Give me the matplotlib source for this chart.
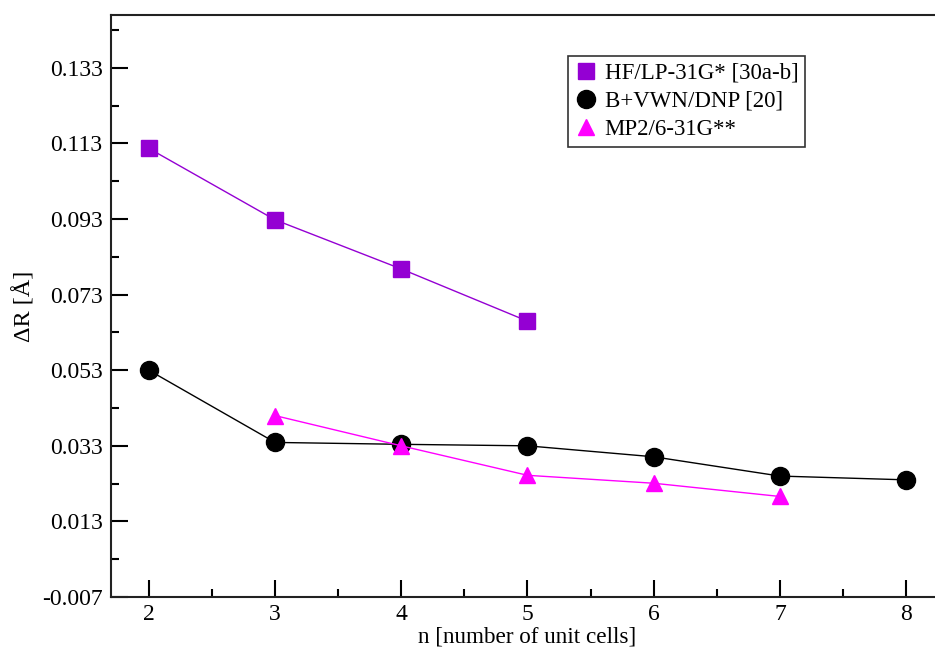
import matplotlib
matplotlib.use("Agg")
import matplotlib.pyplot as plt
from matplotlib.lines import Line2D
import numpy as np

plt.rcParams['font.family'] = ['Liberation Serif', 'DejaVu Serif']
plt.rcParams['mathtext.fontset'] = 'stix'

# data
n_hf = [2, 3, 4, 5]
dr_hf = [0.1117, 0.0928, 0.0798, 0.0660]
n_b = [2, 3, 4, 5, 6, 7, 8]
dr_b = [0.0530, 0.0339, 0.0334, 0.0330, 0.0301, 0.0250, 0.0240]
n_mp2 = [3, 4, 5, 6, 7]
dr_mp2 = [0.0410, 0.0330, 0.0252, 0.0231, 0.0196]

labels = ["HF/LP-31G* [30a-b]", "B+VWN/DNP [20]", "MP2/6-31G**"]
yticks = [-0.007, 0.013, 0.033, 0.053, 0.073, 0.093, 0.113, 0.133]
ytick_labels = ["-0.007", "0.013", "0.033", "0.053", "0.073", "0.093", "0.113", "0.133"]
xticks = [2, 3, 4, 5, 6, 7, 8]

W, H = 935, 655
fig = plt.figure(figsize=(W/100, H/100), dpi=100)
left, right, top, bottom = 111, 944, 15, 597
ax = fig.add_axes([left/W, 1-bottom/H, (right-left)/W, (bottom-top)/H])

c_hf = '#9400d3'
c_b = 'black'
c_mp2 = '#ff00ff'

ax.plot(n_hf, dr_hf, color=c_hf, lw=1.0, marker='s', ms=11, mfc=c_hf, mec=c_hf, zorder=3)
ax.plot(n_b, dr_b, color=c_b, lw=1.0, marker='o', ms=13, mfc=c_b, mec=c_b, zorder=3)
ax.plot(n_mp2, dr_mp2, color=c_mp2, lw=1.0, marker='^', ms=12, mfc=c_mp2, mec=c_mp2, zorder=4)

ax.set_xlim(1.7, 8.3)
ax.set_ylim(-0.007, 0.147)
ax.set_xticks(xticks)
ax.set_xticklabels([str(x) for x in xticks])
ax.set_xticks(np.arange(2.5, 8.0, 1.0), minor=True)
ax.set_yticks(yticks)
ax.set_yticklabels(ytick_labels)
ax.set_yticks(np.arange(0.003, 0.145, 0.02), minor=True)

ax.tick_params(which='both', direction='in', width=1.5, labelsize=17, colors='black')
ax.tick_params(which='major', length=12, pad=6)
ax.tick_params(which='minor', length=6)
ax.tick_params(axis='x', which='both', top=False, pad=5)
ax.tick_params(axis='y', which='both', right=False, pad=6)
for s in ax.spines.values():
    s.set_linewidth(1.5)
    s.set_color('#222222')

ax.set_xlabel("n [number of unit cells]", fontsize=16.7, labelpad=1)
ax.set_ylabel("ΔR [Å]", fontsize=17.5, labelpad=5)

handles = [
    Line2D([], [], ls='None', marker='s', ms=11.5, color=c_hf),
    Line2D([], [], ls='None', marker='o', ms=13, color=c_b),
    Line2D([], [], ls='None', marker='^', ms=12, color=c_mp2),
]
leg = fig.legend(handles, labels, loc='upper left',
                 bbox_to_anchor=(568/W, 1-56/H), borderaxespad=0,
                 fontsize=16.5, frameon=True, fancybox=False,
                 handlelength=1.0, handletextpad=0.3, labelspacing=0.3,
                 borderpad=0.3)
leg.get_frame().set_edgecolor('black')
leg.get_frame().set_linewidth(1.2)

fig.savefig("out.png", dpi=100)
